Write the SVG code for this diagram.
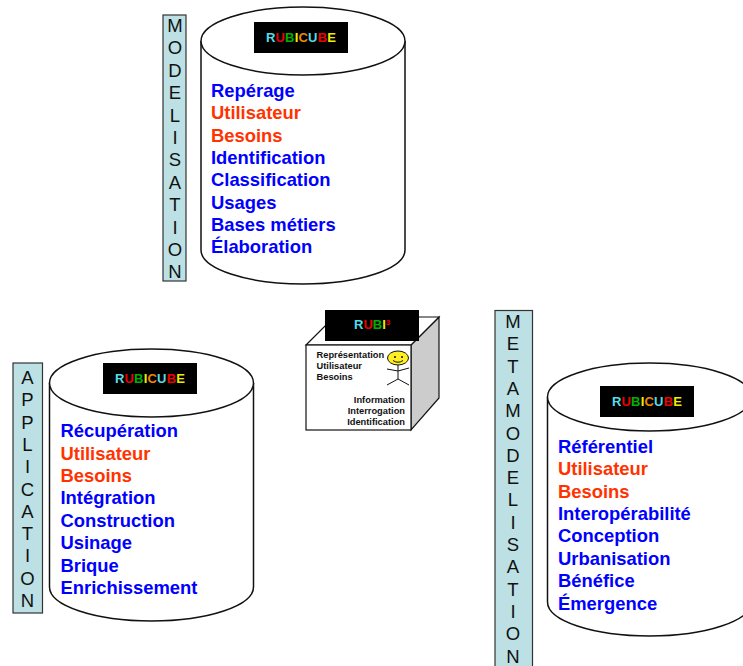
<svg xmlns="http://www.w3.org/2000/svg" width="743" height="666" viewBox="0 0 743 666">
<style>
text{font-family:"Liberation Sans",Arial,sans-serif}
.strip{fill:#bce0e4;stroke:#333;stroke-width:1.2}
.cyl{fill:#fff;stroke:#111;stroke-width:1.5}
.v{font-size:18.5px;fill:#111;text-anchor:middle}
.l{font-size:18.4px;font-weight:bold;fill:#0000ff}
.o{fill:#ff3300}
.logo{font-size:13px;font-weight:bold}
.c{fill:#55dde8}.r{fill:#ee0000}.g{fill:#00b000}.y{fill:#eeee00}.n{fill:#ee8800}
.s{font-size:9.3px;font-weight:bold;fill:#111}
</style>
<defs>
<g id="logo"><rect width="94" height="31" fill="#000"/><text class="logo" x="47" y="19.500" text-anchor="middle" letter-spacing=".2"><tspan class="c">R</tspan><tspan class="r">U</tspan><tspan class="g">B</tspan><tspan class="y">I</tspan><tspan class="n">C</tspan><tspan class="c">U</tspan><tspan class="r">B</tspan><tspan class="y">E</tspan></text></g>
</defs>
<g id="connectors"/>
<g id="modelisation">
<rect class="strip" x="163" y="15" width="23" height="266"/>
<text class="v" x="175"><tspan x="175" y="32">M</tspan><tspan x="175" y="54.400">O</tspan><tspan x="175" y="76.800">D</tspan><tspan x="175" y="99.200">E</tspan><tspan x="175" y="121.600">L</tspan><tspan x="175" y="144">I</tspan><tspan x="175" y="166.400">S</tspan><tspan x="175" y="188.800">A</tspan><tspan x="175" y="211.200">T</tspan><tspan x="175" y="233.600">I</tspan><tspan x="175" y="256">O</tspan><tspan x="175" y="278.400">N</tspan></text>
<path class="cyl" d="M201 41A102 34 0 0 1 405 41V250A102 34 0 0 1 201 250Z"/>
<path class="cyl" d="M201 41A102 34 0 0 0 405 41"/>
<use href="#logo" x="254" y="22"/>
<text class="l" x="211"><tspan x="211" y="97">Repérage</tspan><tspan x="211" y="119" class="o">Utilisateur</tspan><tspan x="211" y="142" class="o">Besoins</tspan><tspan x="211" y="164">Identification</tspan><tspan x="211" y="186">Classification</tspan><tspan x="211" y="209">Usages</tspan><tspan x="211" y="231">Bases métiers</tspan><tspan x="211" y="253">Élaboration</tspan></text>
</g>
<g id="application">
<rect class="strip" x="13" y="363" width="29.500" height="250"/>
<text class="v"><tspan x="27.500" y="384">A</tspan><tspan x="27.500" y="406.300">P</tspan><tspan x="27.500" y="428.600">P</tspan><tspan x="27.500" y="450.900">L</tspan><tspan x="27.500" y="473.200">I</tspan><tspan x="27.500" y="495.500">C</tspan><tspan x="27.500" y="517.800">A</tspan><tspan x="27.500" y="540.100">T</tspan><tspan x="27.500" y="562.400">I</tspan><tspan x="27.500" y="584.700">O</tspan><tspan x="27.500" y="607">N</tspan></text>
<path class="cyl" d="M49.500 383A102 34 0 0 1 253.500 383V587A102 34 0 0 1 49.500 587Z"/>
<path class="cyl" d="M49.500 383A102 34 0 0 0 253.500 383"/>
<use href="#logo" x="103" y="363"/>
<text class="l"><tspan x="60.500" y="437">Récupération</tspan><tspan x="60.500" y="460" class="o">Utilisateur</tspan><tspan x="60.500" y="482" class="o">Besoins</tspan><tspan x="60.500" y="504">Intégration</tspan><tspan x="60.500" y="527">Construction</tspan><tspan x="60.500" y="549">Usinage</tspan><tspan x="60.500" y="572">Brique</tspan><tspan x="60.500" y="594">Enrichissement</tspan></text>
</g>
<g id="rubi-cube">
<path d="M411 345L439 317V398L411 430Z" fill="#cccccc" stroke="#111" stroke-width="1.200"/>
<path d="M306 345L334 317H439L411 345Z" fill="#fff" stroke="#111" stroke-width="1.200"/>
<rect x="306" y="345" width="105" height="85" fill="#fff" stroke="#111" stroke-width="1.200"/>
<rect x="325" y="310" width="94" height="31" fill="#000"/>
<text class="logo" x="354" y="329"><tspan class="c">R</tspan><tspan class="r">U</tspan><tspan class="g">B</tspan><tspan class="y">I</tspan><tspan class="r" font-size="8" dy="-4">3</tspan></text>
<text class="s"><tspan x="316.500" y="358">Représentation</tspan><tspan x="316.500" y="369">Utilisateur</tspan><tspan x="316.500" y="380">Besoins</tspan></text>
<text class="s" text-anchor="end"><tspan x="405" y="403">Information</tspan><tspan x="405" y="414">Interrogation</tspan><tspan x="405" y="425">Identification</tspan></text>
<ellipse cx="398" cy="358" rx="10.500" ry="7" fill="#ffee22" stroke="#111"/>
<circle cx="395" cy="357" r="1" fill="#111"/><circle cx="402" cy="357" r="1" fill="#111"/>
<path d="M393 360.500Q398 364 403 360.500M398 365V379M387 369L398 371L409 368M387 385L398 379L409 385" fill="none" stroke="#111"/>
</g>
<g id="metamodelisation">
<rect class="strip" x="495" y="310.500" width="37.500" height="360"/>
<text class="v"><tspan x="513" y="328">M</tspan><tspan x="513" y="350.300">E</tspan><tspan x="513" y="372.600">T</tspan><tspan x="513" y="394.900">A</tspan><tspan x="513" y="417.200">M</tspan><tspan x="513" y="439.500">O</tspan><tspan x="513" y="461.800">D</tspan><tspan x="513" y="484.100">E</tspan><tspan x="513" y="506.400">L</tspan><tspan x="513" y="528.700">I</tspan><tspan x="513" y="551">S</tspan><tspan x="513" y="573.300">A</tspan><tspan x="513" y="595.600">T</tspan><tspan x="513" y="617.900">I</tspan><tspan x="513" y="640.200">O</tspan><tspan x="513" y="662.500">N</tspan></text>
<path class="cyl" d="M547.500 397A102 34 0 0 1 751.500 397V602A102 34 0 0 1 547.500 602Z"/>
<path class="cyl" d="M547.500 397A102 34 0 0 0 751.500 397"/>
<use href="#logo" x="600" y="386"/>
<text class="l"><tspan x="558" y="453">Référentiel</tspan><tspan x="558" y="475" class="o">Utilisateur</tspan><tspan x="558" y="498" class="o">Besoins</tspan><tspan x="558" y="520">Interopérabilité</tspan><tspan x="558" y="542">Conception</tspan><tspan x="558" y="565">Urbanisation</tspan><tspan x="558" y="587">Bénéfice</tspan><tspan x="558" y="610">Émergence</tspan></text>
</g>
</svg>
